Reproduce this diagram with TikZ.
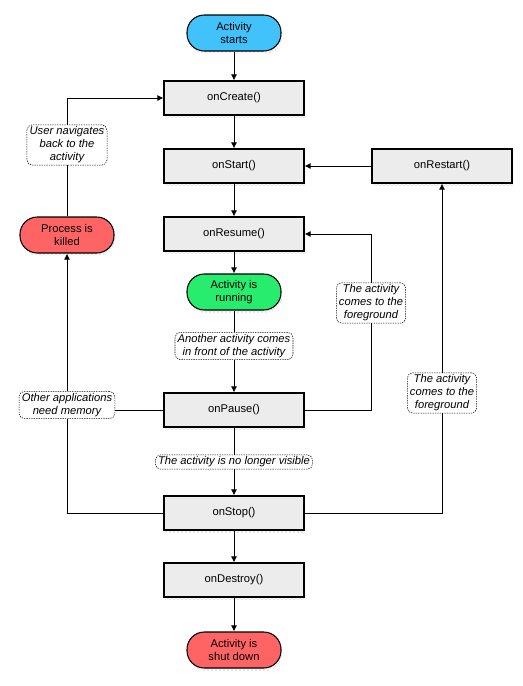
\documentclass[tikz,border=0pt]{standalone}
\usepackage{fontspec}
\setmainfont{Liberation Sans}
\usetikzlibrary{arrows.meta,shadows,patterns}

\definecolor{azulinicio}{RGB}{66,194,250}
\definecolor{rojofin}{RGB}{255,100,100}
\definecolor{verdecorre}{RGB}{40,236,110}
\definecolor{griscaja}{RGB}{236,236,236}

\begin{document}
\begin{tikzpicture}[x=0.75pt,y=-0.75pt,
    font=\fontsize{8.4}{9.75}\selectfont,
    sombra/.style={drop shadow={shadow xshift=1.2pt,shadow yshift=-2pt,pattern=crosshatch dots,pattern color=black!80}},
    caja/.style={draw,line width=0.8pt,fill=griscaja,minimum width=105pt,minimum height=25.5pt,sombra},
    pildora/.style={draw,line width=0.8pt,rounded corners=13pt,minimum width=70.5pt,minimum height=27pt,align=center,inner sep=1pt,sombra},
    nota/.style={draw,line width=0.4pt,dash pattern=on 1pt off 0.8pt,rounded corners=4pt,fill=white,align=center,font=\fontsize{8.4}{9.75}\selectfont\itshape,inner xsep=2pt,inner ysep=1.5pt},
    flecha/.style={-{Latex[length=4.5pt,width=4.5pt]}},
    every path/.style={line width=0.75pt}]
        \useasboundingbox (0,0) rectangle (522,686);

        % estados
        \node[pildora,fill=azulinicio] (inicio) at (234,33) {Activity\\starts};
        \node[pildora,fill=verdecorre] (corre) at (234,292) {Activity is\\running};
        \node[pildora,fill=rojofin] (muerto) at (67,235) {Process is\\killed};
        \node[pildora,fill=rojofin] (fin) at (234,650) {Activity is\\shut down};

        % metodos
        \node[caja] (create) at (234,98) {onCreate()};
        \node[caja] (start) at (234,166) {onStart()};
        \node[caja] (restart) at (442,166) {onRestart()};
        \node[caja] (resume) at (234,234) {onResume()};
        \node[caja] (pause) at (234,410) {onPause()};
        \node[caja] (stop) at (234,513) {onStop()};
        \node[caja] (destroy) at (234,580) {onDestroy()};

        % notas
        \node[nota] (vuelve) at (67,145) {User navigates\\back to the\\activity};
        \node[nota] (otra) at (234,346) {Another activity comes\\in front of the activity};
        \node[nota] (novisible) at (234,462) {The activity is no longer visible};
        \node[nota] (memoria) at (67,405) {Other applications\\need memory};
        \node[nota] (frente1) at (371,303) {The activity\\comes to the\\foreground};
        \node[nota] (frente2) at (442,393) {The activity\\comes to the\\foreground};

        % camino principal
        \draw[flecha] (inicio) -- (create);
        \draw[flecha] (create) -- (start);
        \draw[flecha] (start) -- (resume);
        \draw[flecha] (resume) -- (corre);
        \draw (corre) -- (otra);
        \draw[flecha] (otra) -- (pause);
        \draw (pause) -- (novisible);
        \draw[flecha] (novisible) -- (stop);
        \draw[flecha] (stop) -- (destroy);
        \draw[flecha] (destroy) -- (fin);

        % proceso eliminado
        \draw (muerto) -- (vuelve);
        \draw[flecha] (vuelve) |- (create);
        \draw (pause.west) -- (pause.west -| memoria.east);
        \draw (stop) -| (memoria);
        \draw[flecha] (memoria) -- (muerto);

        % vuelta al primer plano
        \draw (pause) -| (frente1);
        \draw[flecha] (frente1) |- (resume);
        \draw (stop) -| (frente2);
        \draw[flecha] (frente2) -- (restart);
        \draw[flecha] (restart) -- (start);
\end{tikzpicture}
\end{document}
